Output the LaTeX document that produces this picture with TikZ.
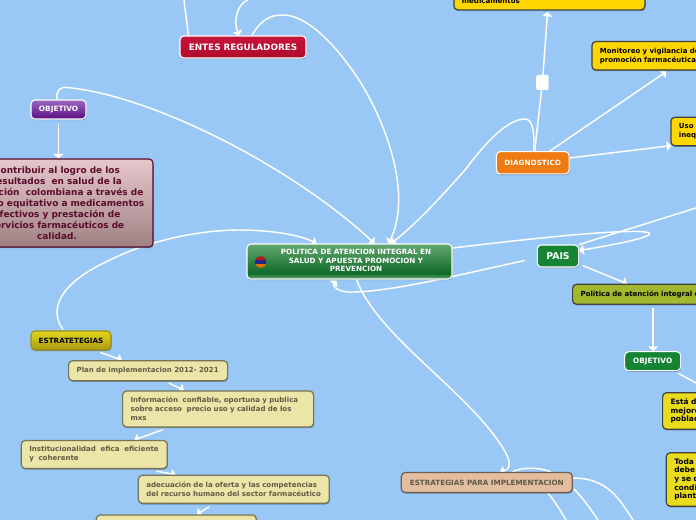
\documentclass[tikz,border=0pt]{standalone}
\usepackage{fontspec}
\setmainfont{DejaVu Sans}
\usetikzlibrary{arrows.meta,calc,backgrounds,shadows}
\definecolor{bgblue}{HTML}{9AC8F6}
\definecolor{paley}{HTML}{EBE6A8}
\definecolor{txtg}{HTML}{5E5B45}
\definecolor{salm}{HTML}{E2BDA0}
\definecolor{gold}{HTML}{FFD700}
\definecolor{dgreen}{HTML}{158535}
\definecolor{olivo}{HTML}{A2B82E}
\definecolor{lem}{HTML}{E9DC1C}
\definecolor{orng}{HTML}{EE7A10}
\definecolor{maroon}{HTML}{5A0A2A}
\definecolor{ctop}{HTML}{63A870}
\definecolor{cdark}{HTML}{0F6A28}
\definecolor{cband}{HTML}{4B9358}
\definecolor{crimT}{HTML}{C8143C}
\definecolor{crimB}{HTML}{B00A2C}
\definecolor{purT}{HTML}{9A68C0}
\definecolor{purB}{HTML}{5C0C84}
\definecolor{pinkT}{HTML}{E6C8CC}
\definecolor{pinkB}{HTML}{9F8184}
\definecolor{musT}{HTML}{E2D61E}
\definecolor{musB}{HTML}{AA9A10}
\definecolor{musD}{HTML}{9A8C20}
\pgfdeclareverticalshading{ctrshade}{100bp}{color(0bp)=(cband); color(25bp)=(cband); color(28bp)=(cband); color(33bp)=(cdark); color(75bp)=(ctop); color(100bp)=(ctop)}
\tikzset{
  x=0.75pt,y=-0.75pt,
  softsh/.style={drop shadow={shadow xshift=0.4pt,shadow yshift=-0.9pt,opacity=.3,fill=black}},
  link/.style={draw=white,line width=1.1pt},
  arr/.style={link,-{Triangle[length=3.4pt,width=7.5pt,fill=white]}},
  sized/.style 2 args={minimum width=#1*0.75pt,minimum height=#2*0.75pt,inner sep=0pt,rounded corners=3pt},
  lt/.style 2 args={text width=(#1-16)*0.75pt,inner xsep=6pt,inner ysep=0pt,minimum height=#2*0.75pt,align=left,rounded corners=3pt},
  whitebox/.style={draw=white,line width=0.8pt,text=white,softsh},
  darkbox/.style={fill=#1,draw=black!75,line width=0.9pt,text=black,softsh},
  palebox/.style={fill=#1,draw=#1!50!black,line width=0.9pt,text=txtg,softsh},
  small/.style={font=\fontsize{5.27pt}{6.7pt}\selectfont\bfseries},
  big/.style={font=\fontsize{5.6pt}{6.45pt}\selectfont\bfseries},
}
\begin{document}
\begin{tikzpicture}
\useasboundingbox (0,0) rectangle (696,520);
\clip (0,0) rectangle (696,520);
% nodes
\node[whitebox,sized={205}{35},shading=ctrshade,font=\fontsize{5.4pt}{6.4pt}\selectfont\bfseries] (c) at (349.5,261.5) {\kern9.75pt\raisebox{-1.1pt}{\begin{tabular}{@{}c@{}}POLITICA DE ATENCION INTEGRAL EN\\SALUD Y APUESTA PROMOCION Y\\PREVENCION\end{tabular}}};
\begin{scope}
\clip (260.7,262) circle (5.7);
\fill[red!65!black!90!white] (254,255) rectangle (267,260);
\fill[blue!45!black!85!white] (254,260) rectangle (267,264.3);
\fill[orange!90!black] (254,264.3) rectangle (267,268);
\end{scope}
\node[whitebox,sized={126}{22},top color=crimT,bottom color=crimB,font=\fontsize{6.6pt}{8pt}\selectfont\bfseries] (ent) at (243,47) {ENTES REGULADORES};
\node[whitebox,sized={55}{19},top color=purT,bottom color=purB,font=\fontsize{5.5pt}{6pt}\selectfont\bfseries] (obj) at (58.5,109.5) {OBJETIVO};
\node[sized={192}{88},top color=pinkT,bottom color=pinkB,draw=maroon,line width=0.8pt,text=maroon,align=center,font=\fontsize{6.7pt}{8.25pt}\selectfont\bfseries,softsh] (contr) at (57,203) {Contribuir al logro de los\\resultados\ \ en salud de la\\población\ \ colombiana a través de\\acceso equitativo a medicamentos\\efectivos y prestación de\\servicios farmacéuticos de\\calidad.};
\node[sized={80}{19},top color=musT,bottom color=musB,draw=musD,line width=0.8pt,font=\fontsize{5.4pt}{6pt}\selectfont\bfseries,softsh] (est) at (71,340.5) {ESTRATETEGIAS};
\node[palebox=paley,lt={159}{20},small,anchor=west] (p1) at (68,370.7) {\mbox{Plan de implementacion 2012- 2021}};
\node[palebox=paley,lt={191}{36},small,anchor=west] (p2) at (122,409) {Información\ \ confiable, oportuna y publica\\sobre acceso\ \ precio uso y calidad de los\\mxs};
\node[palebox=paley,lt={146}{28},small,anchor=west] (p3) at (20.7,454.5) {\mbox{Institucionalidad\ \ efica\ \ eficiente}\\y\ \ coherente};
\node[palebox=paley,lt={191}{28},small,anchor=west] (p4) at (137.7,489.3) {\mbox{adecuación de la oferta y las competencias}\\\mbox{del recurso humano del sector farmacéutico}};
\node[palebox=paley,sized={160}{16},anchor=north west] (p5) at (95.7,514.3) {};
\node[palebox=salm,sized={171}{20},font=\fontsize{5.4pt}{6pt}\selectfont\bfseries] (impl) at (486.8,482.5) {ESTRATEGIAS PARA IMPLEMENTACION};
\node[darkbox=gold,lt={191}{18.5},small,anchor=south west] (med) at (453.3,10.5) {medicamentos};
\node[darkbox=gold,lt={129}{28.5},small,anchor=west] (mon) at (591.3,55.8) {\mbox{Monitoreo y vigilancia de}\\promoción farmacéutica};
\node[darkbox=gold,lt={50}{28.5},small,anchor=west] (uso) at (670.3,131.5) {Uso i\\ineq};
\node[whitebox,sized={72.7}{22.3},fill=orng,font=\fontsize{5.4pt}{6pt}\selectfont\bfseries] (diag) at (532.7,162.8) {DIAGNOSTICO};
\node[whitebox,sized={41.4}{22},fill=dgreen,font=\fontsize{7pt}{8pt}\selectfont\bfseries] (pais) at (558,256) {PAIS};
\node[darkbox=olivo,lt={150}{20},small,anchor=west] (pol) at (572,294.3) {\mbox{Política de atención integral en}};
\node[whitebox,sized={56}{19},fill=dgreen,font=\fontsize{5.5pt}{6pt}\selectfont\bfseries] (obj2) at (652.7,361.2) {OBJETIVO};
\node[darkbox=lem,lt={60}{36.5},big,anchor=west] (esta) at (662,411) {Está di\\mejore\\poblac};
\node[darkbox=lem,lt={56}{53.5},big,anchor=west] (toda) at (665.7,479.5) {Toda p\\debe p\\y se d\\condic\\plante};
% free ends at the page edge
\coordinate (topa) at (184,0);
\coordinate (topb) at (248,0);
\coordinate (edgeR) at (696,208);
\coordinate (edgeO) at (696,383);
\coordinate (bot1) at (633,520);
\coordinate (bot2) at (598,520);
\coordinate (bot3) at (566,520);
\coordinate (sq) at (542.4,82.5);
\begin{pgfonlayer}{background}
\fill[bgblue] (0,0) rectangle (696,520);
% connectors
\draw[link] (topa) -- ($(ent.north west)+(9,0)$);
\draw[arr] (topb) .. controls (238,3) and (233,20) .. ($(ent.north)+(-4,0)$);
\draw[arr] ($(ent.north)+(9,0)$) .. controls (262,18) and (272,15) .. (283,15) .. controls (305,15) and (330,40) .. (347,63) .. controls (380,105) and (415,190) .. ($(c.north)+(39,0)$);
\draw[arr] ($(obj.north)+(-1.5,0)$) .. controls (56,90) and (60,87) .. (67,87.5) .. controls (150,95) and (290,165) .. ($(c.north)+(25,0)$);
\draw[arr] ($(obj.south)+(0,4)$) -- (contr.north -| obj.south);
\draw[arr] ($(est.north)+(-8,-1)$) .. controls (50,312) and (55,285) .. (110,260) .. controls (150,240) and (200,230) .. (240,230) .. controls (270,230) and (300,235) .. ($(c.north)+(-33,0)$);
\draw[arr] ($(est.south east)+(-11,2)$) -- ($(p1.north west)+(54,0)$);
\draw[arr] ($(p1.south)+(20.5,1.5)$) -- ($(p2.north west)+(62,0)$);
\draw[arr] ($(p2.south west)+(41,2)$) -- ($(p3.north east)+(-33.5,0)$);
\draw[arr] ($(p3.south east)+(-11.5,2)$) -- ($(p4.north west)+(38,0)$);
\draw[arr] ($(p4.south west)+(71.5,3)$) -- ($(p5.north west)+(101,0)$);
% diagnostico
\draw[arr] ($(diag.north)+(1,0)$) .. controls (535,130) and (532,119) .. (525,119) .. controls (505,119) and (480,150) .. (465,170) .. controls (440,198) and (415,225) .. ($(c.north)+(41.5,0)$);
\draw[link] ($(diag.north)+(2,0)$) -- (sq);
\draw[arr] (sq) -- ($(med.south west)+(94.3,1.5)$);
\fill[white,rounded corners=1pt] ($(sq)+(-6.2,-7.5)$) rectangle ($(sq)+(6.2,7.5)$);
\draw[arr] ($(diag.north)+(17,0)$) -- ($(mon.south west)+(75,1)$);
\draw[arr] (diag.east |- 570,158) -- ($(uso.south west)+(1,-0.7)$);
% pais
\draw[arr] ($(c.east)+(0,-13.5)$) .. controls (520,240) and (590,232) .. (630,231.5) .. controls (665,231) and (655,238) .. ($(pais.north east)+(0,6)$);
\draw[link] (edgeR) -- ($(pais.north east)+(0,0)$);
\draw[arr] ($(pais.south west)+(-12,-7)$) .. controls (470,272) and (390,293) .. (348,292) .. controls (338,291.5) and (332,286) .. ($(c.south)+(-13,1)$);
\draw[arr] ($(pais.south east)+(3.5,-2)$) -- ($(pol.north west)+(55,0)$);
\draw[arr] (653,308) -- (obj2.north -| 653,308);
\draw[link] ($(obj2.south east)+(-3,2)$) -- (edgeO);
% implementacion
\draw[arr] ($(c.south)+(7,0)$) .. controls (375,330) and (450,380) .. (490,430) .. controls (510,455) and (514,468) .. ($(impl.north)+(13,0)$);
\draw[link] ($(impl.north)+(26,0)$) .. controls (520,467) and (540,467) .. ($(impl.north)+(64,0)$);
\draw[link] ($(impl.east)+(0,-4.5)$) .. controls (608,478) and (620,500) .. (bot1);
\draw[link] ($(impl.east)+(1,6.5)$) .. controls (582,497) and (590,508) .. (bot2);
\draw[link] ($(impl.south east)+(-25,0)$) .. controls (554,500) and (560,510) .. (bot3);
\end{pgfonlayer}
\end{tikzpicture}
\end{document}
